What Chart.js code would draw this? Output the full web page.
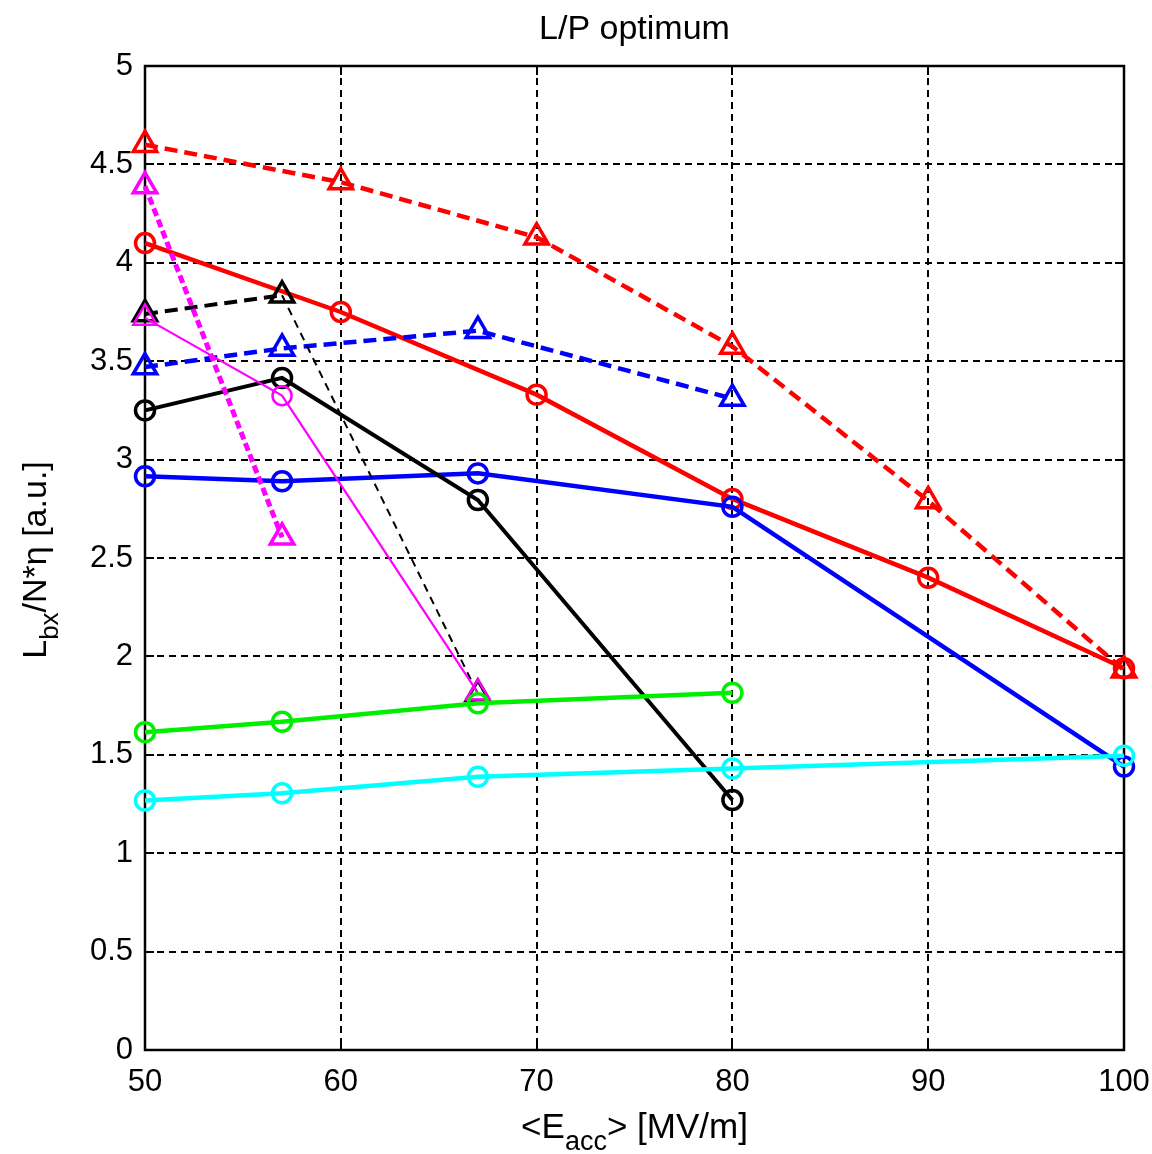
<!DOCTYPE html>
<html>
<head>
<meta charset="utf-8">
<script src="https://cdn.jsdelivr.net/npm/chart.js@4.4.1/dist/chart.umd.min.js"></script>
<style>
  html, body { margin: 0; padding: 0; background: #fff; }
  #wrap { width: 1152px; height: 1154px; position: relative; }
</style>
</head>
<body>
<div id="wrap"><canvas id="c" width="1152" height="1154"></canvas></div>
<script>
// Accelerating gradient values (MV/m) used by the different scans
const eaccFull = [50, 60, 70, 80, 90, 100];
const eaccA = [50, 57, 67, 80];
const eaccB = [50, 57, 67, 80, 100];
const eaccC = [50, 57, 67];
const eaccD = [50, 57];

// L_bx / N*eta for each configuration
const redDashed = [4.60, 4.41, 4.13, 3.575, 2.79, 1.93];
const redSolid = [4.10, 3.75, 3.33, 2.80, 2.40, 1.94];
const blueDashed = [3.47, 3.565, 3.655, 3.31];
const blueSolid = [2.915, 2.89, 2.93, 2.76, 1.44];
const blackDashed = [3.74, 3.835, 1.81];
const blackSolid = [3.25, 3.415, 2.795, 1.27];
const magentaDashed = [4.39, 2.605];
const magentaThin = [3.72, 3.325, 1.815];
const green = [1.615, 1.668, 1.762, 1.815];
const cyan = [1.268, 1.305, 1.388, 1.43, 1.495];

// Axis ticks
const xTicks = [50, 60, 70, 80, 90, 100];
const yTicks = [0, 0.5, 1, 1.5, 2, 2.5, 3, 3.5, 4, 4.5, 5];

const FONT = '"Liberation Sans", Arial, Helvetica, sans-serif';

function pts(xs, ys) { return xs.map((x, i) => ({ x: x, y: ys[i] })); }

const CIRC = 9.5;
const TRI = 13.5;

function series(xs, ys, color, opts) {
  return Object.assign({
    data: pts(xs, ys),
    borderColor: color,
    pointBorderColor: color,
    backgroundColor: 'rgba(0,0,0,0)',
    pointBackgroundColor: 'rgba(0,0,0,0)',
    borderWidth: 4.5,
    pointBorderWidth: 3.5,
    pointRadius: CIRC,
    pointHoverRadius: CIRC,
    pointStyle: 'circle',
    tension: 0,
    clip: false
  }, opts || {});
}

const datasets = [
  series(eaccB, cyan, '#00ffff'),
  series(eaccA, green, '#00ee00'),
  series(eaccC, magentaThin, '#ff00ff', {
    borderWidth: 2.2, pointBorderWidth: 2.5,
    pointStyle: ['triangle', 'circle', 'triangle'],
    pointRadius: [TRI, CIRC, TRI]
  }),
  series(eaccD, magentaDashed, '#ff00ff', {
    borderWidth: 5, borderDash: [8, 4], pointStyle: 'triangle', pointRadius: TRI
  }),
  series(eaccA, blackSolid, '#000000', { borderWidth: 4 }),
  series(eaccC, blackDashed, '#000000', {
    pointStyle: 'triangle', pointRadius: TRI,
    segment: {
      borderWidth: ctx => ctx.p0DataIndex === 0 ? 4 : 2,
      borderDash: ctx => ctx.p0DataIndex === 0 ? [13, 7] : [8, 6]
    }
  }),
  series(eaccB, blueSolid, '#0000ff'),
  series(eaccA, blueDashed, '#0000ff', { borderDash: [13, 7], pointStyle: 'triangle', pointRadius: TRI }),
  series(eaccFull, redSolid, '#ff0000'),
  series(eaccFull, redDashed, '#ff0000', { borderDash: [13, 7], pointStyle: 'triangle', pointRadius: TRI })
];

// Frame, inward tick marks, title and axis titles (with subscripts)
const decorations = {
  id: 'decorations',
  beforeDatasetsDraw(chart) {
    const ctx = chart.ctx;
    const a = chart.chartArea;
    const xs = chart.scales.x, ys = chart.scales.y;
    const tl = 9;
    ctx.save();
    ctx.strokeStyle = '#000';
    ctx.lineWidth = 2.5;
    ctx.setLineDash([]);
    ctx.strokeRect(a.left, a.top, a.right - a.left, a.bottom - a.top);
    ctx.lineWidth = 2;
    ctx.beginPath();
    xTicks.forEach(v => {
      const p = Math.round(xs.getPixelForValue(v));
      ctx.moveTo(p, a.bottom); ctx.lineTo(p, a.bottom - tl);
      ctx.moveTo(p, a.top); ctx.lineTo(p, a.top + tl);
    });
    yTicks.forEach(v => {
      const p = Math.round(ys.getPixelForValue(v));
      ctx.moveTo(a.left, p); ctx.lineTo(a.left + tl, p);
      ctx.moveTo(a.right, p); ctx.lineTo(a.right - tl, p);
    });
    ctx.stroke();
    ctx.restore();
  },
  afterDraw(chart) {
    const ctx = chart.ctx;
    const a = chart.chartArea;
    const cx = (a.left + a.right) / 2;
    ctx.save();
    ctx.fillStyle = '#000';
    ctx.textBaseline = 'alphabetic';

    // Title
    ctx.font = '34px ' + FONT;
    ctx.textAlign = 'center';
    ctx.fillText('L/P optimum', cx, 39);

    // Draws a run of [text, isSubscript] pieces starting at x
    function runWidth(parts, big, small) {
      let w = 0;
      parts.forEach(p => { ctx.font = (p[1] ? small : big) + 'px ' + FONT; w += ctx.measureText(p[0]).width; });
      return w;
    }
    function drawRun(parts, x, y, big, small, drop) {
      ctx.textAlign = 'left';
      parts.forEach(p => {
        ctx.font = (p[1] ? small : big) + 'px ' + FONT;
        ctx.fillText(p[0], x, p[1] ? y + drop : y);
        x += ctx.measureText(p[0]).width;
      });
    }

    // X-axis title
    const xParts = [['<E', false], ['acc', true], ['> [MV/m]', false]];
    const xw = runWidth(xParts, 35, 27);
    drawRun(xParts, cx - xw / 2, 1138, 35, 27, 12);

    // Y-axis title
    const yParts = [['L', false], ['bx', true], ['/N*\u03B7 [a.u.]', false]];
    const yw = runWidth(yParts, 34, 26);
    ctx.translate(46, 560);
    ctx.rotate(-Math.PI / 2);
    drawRun(yParts, -yw / 2, 0, 34, 26, 12);
    ctx.restore();
  }
};

new Chart(document.getElementById('c'), {
  type: 'line',
  data: { datasets: datasets },
  options: {
    responsive: false,
    animation: false,
    devicePixelRatio: 1,
    layout: { padding: { top: 66, right: 28, bottom: 0, left: 0 } },
    plugins: {
      legend: { display: false },
      title: { display: false },
      tooltip: { enabled: false }
    },
    scales: {
      x: {
        type: 'linear',
        min: 50, max: 100,
        afterFit: s => { s.height = 104; s.paddingLeft = 0; s.paddingRight = 0; },
        afterBuildTicks: s => { s.ticks = xTicks.map(v => ({ value: v })); },
        ticks: { color: '#000', font: { family: FONT, size: 31 }, padding: 14, maxRotation: 0,
                 callback: v => String(v) },
        grid: { color: '#000', lineWidth: 2, drawTicks: false },
        border: { display: false, dash: [7, 5] }
      },
      y: {
        type: 'linear',
        min: 0, max: 5,
        afterFit: s => { s.width = 145; s.paddingTop = 0; s.paddingBottom = 0; },
        afterBuildTicks: s => { s.ticks = yTicks.map(v => ({ value: v })); },
        ticks: { color: '#000', font: { family: FONT, size: 31 }, padding: 12,
                 callback: v => String(v) },
        grid: { color: '#000', lineWidth: 2, drawTicks: false },
        border: { display: false, dash: [7, 5] }
      }
    }
  },
  plugins: [decorations]
});
</script>
</body>
</html>
